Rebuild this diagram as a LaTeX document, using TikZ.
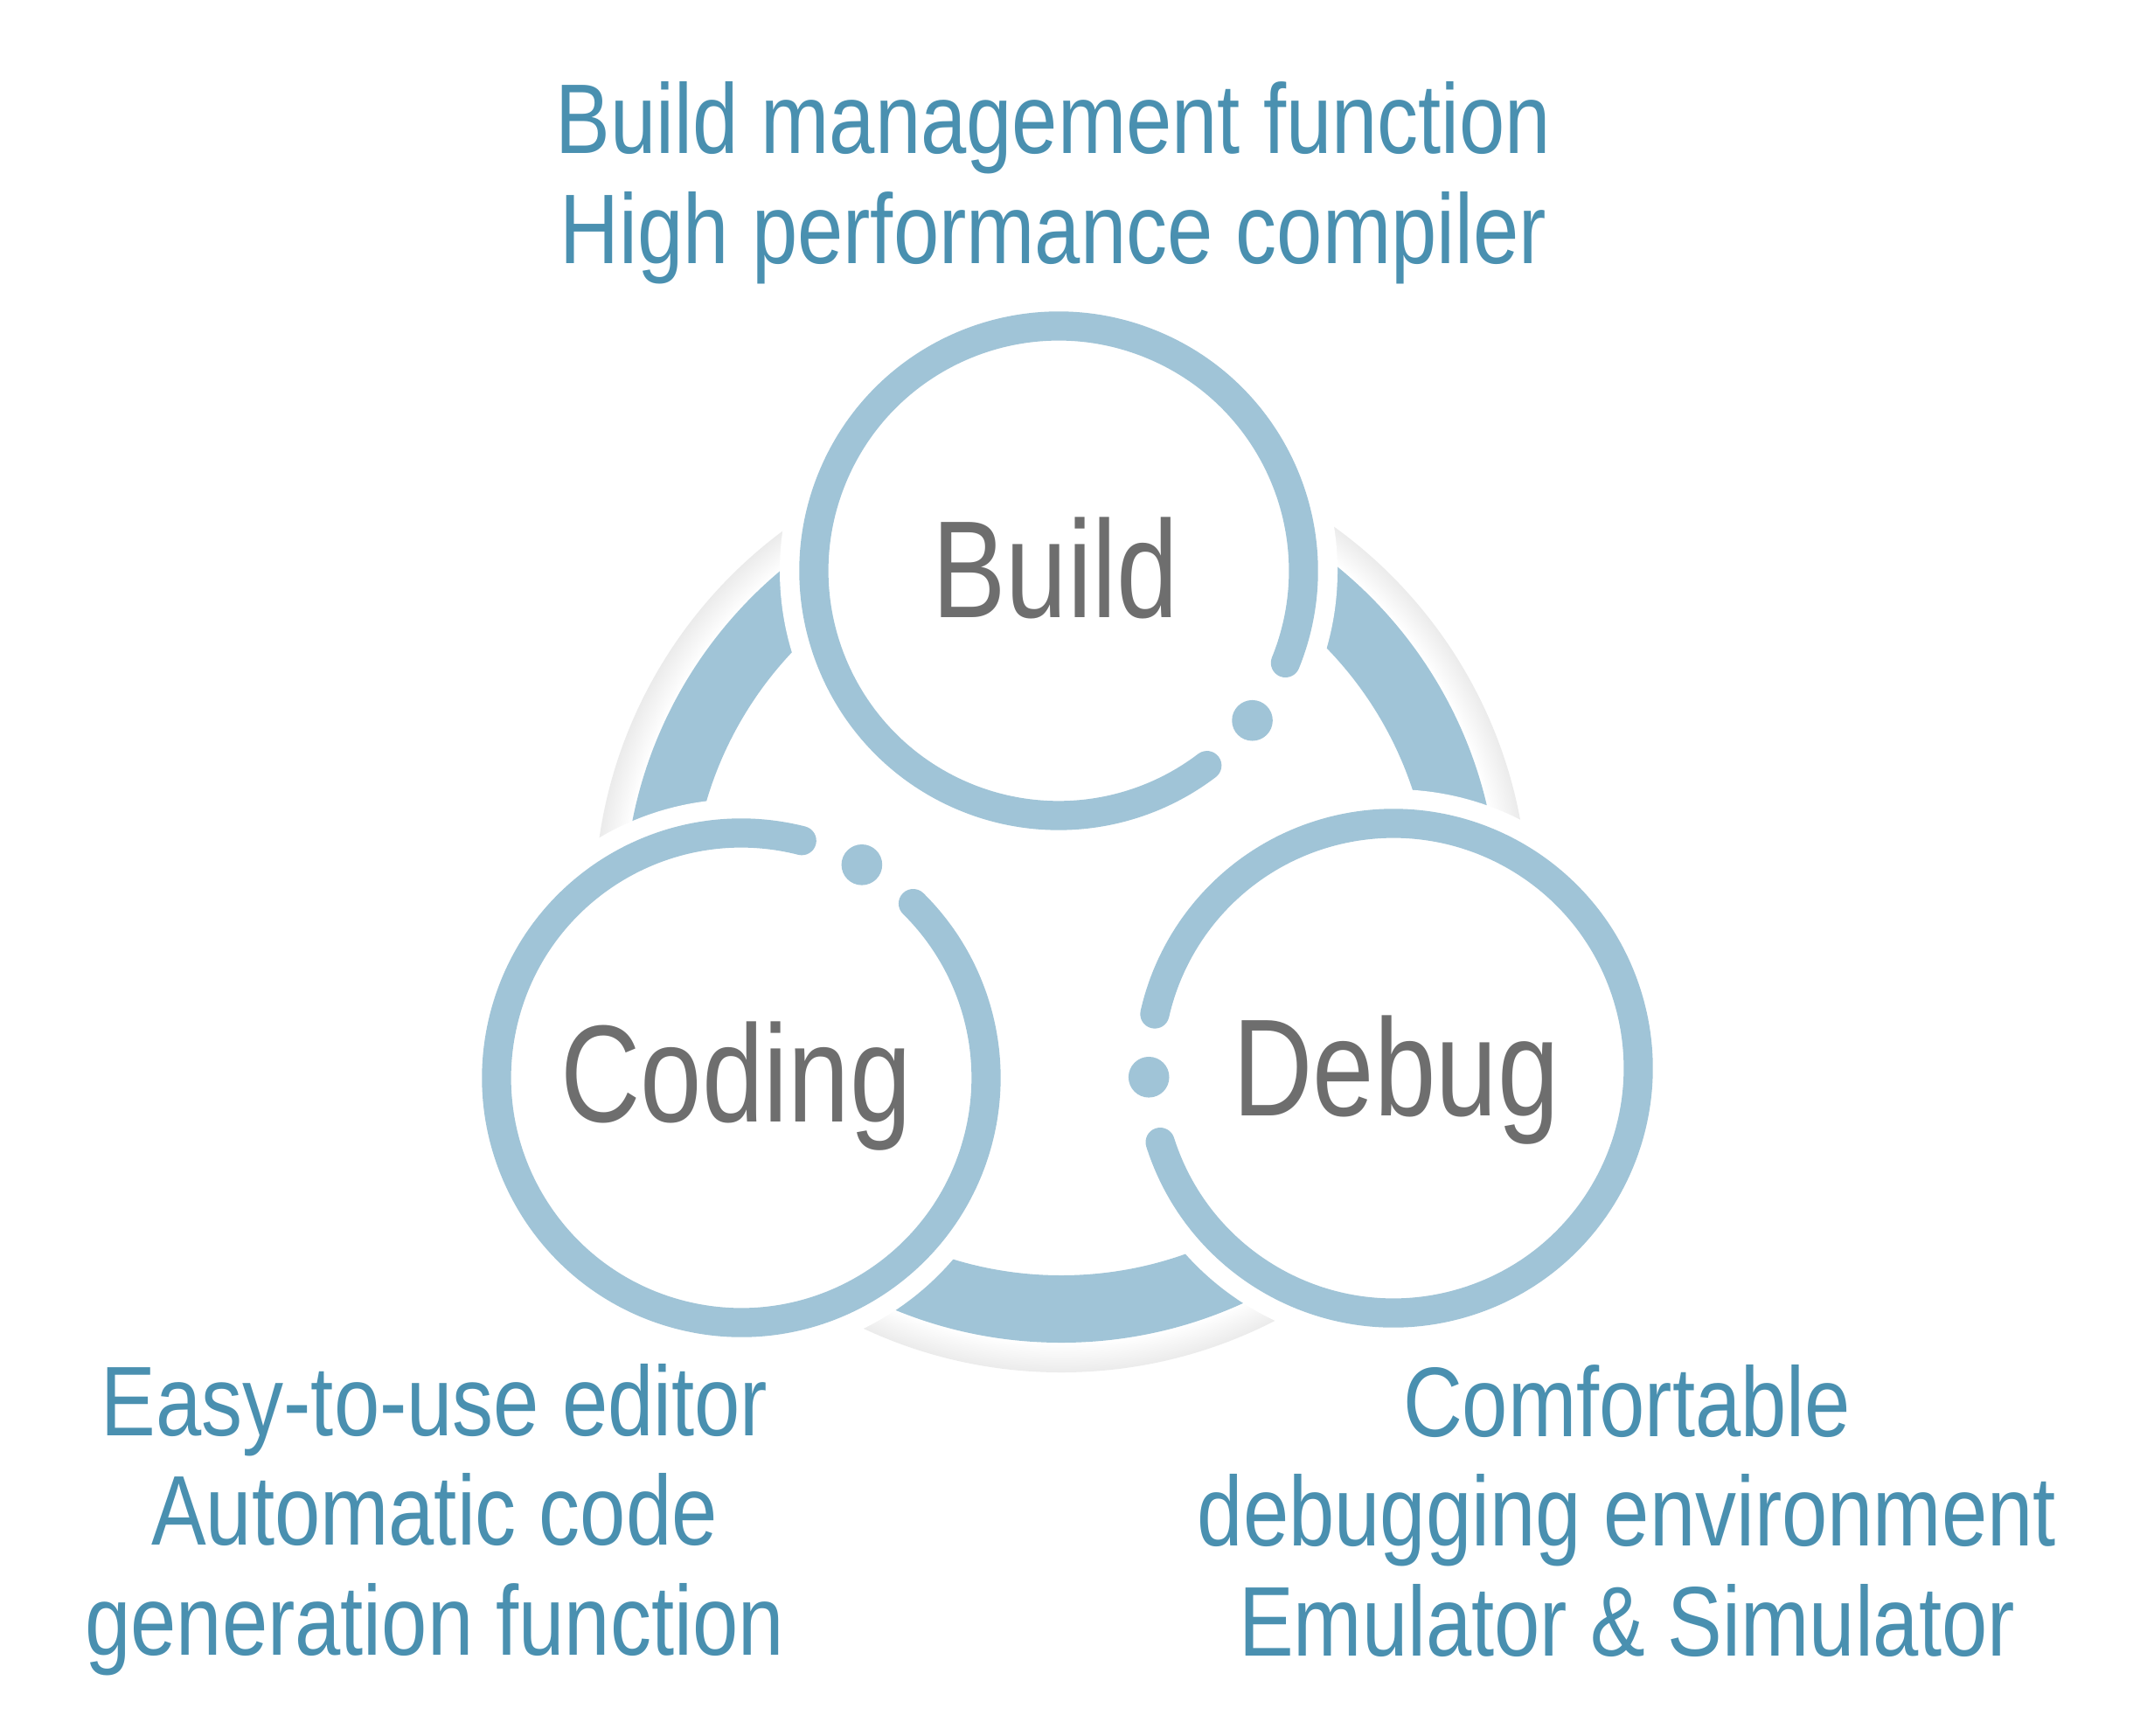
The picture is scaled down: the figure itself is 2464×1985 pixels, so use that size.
\documentclass[tikz,border=0pt]{standalone}
\usepackage{fontspec}
\newfontfamily\featfont[FakeStretch=0.83]{Liberation Sans}
\newfontfamily\phasefont[FakeStretch=0.8]{Liberation Sans}
\definecolor{ringblue}{HTML}{A0C4D7}
\definecolor{textblue}{HTML}{4A90B0}
\definecolor{labgrey}{HTML}{6E6E6E}
\definecolor{shadowgrey}{HTML}{EBEBEB}
% soft edge outside the connecting band (circle edge sits at 25bp)
\pgfdeclareradialshading{bandshadow}{\pgfpoint{0bp}{0bp}}{color(0bp)=(white); color(23.4bp)=(white); color(25bp)=(shadowgrey); color(50bp)=(shadowgrey)}

\begin{document}
\begin{tikzpicture}[
  x=0.01cm, y=0.01cm,
  ring/.style={draw=ringblue, line width=0.333cm, line cap=round},
  gapdot/.style={fill=ringblue},
  halo/.style={fill=white},
  phase/.style={font=\phasefont\fontsize{45pt}{50pt}\selectfont, text=labgrey,
                inner sep=0pt, anchor=base},
  feat/.style={font=\featfont\fontsize{32.2pt}{35.6pt}\selectfont, text=textblue,
               align=center, inner sep=0pt, anchor=base}
]
\useasboundingbox (0,0) rectangle (2464,-1985);

\coordinate (hub) at (1214,-1036);
\coordinate (build) at (1211,-653);
\coordinate (coding) at (848,-1233);
\coordinate (debug) at (1594,-1222);

% band joining the three circles
\shade[shading=bandshadow] (hub) circle (534);
\fill[ringblue, even odd rule] (hub) circle (500) (hub) circle (423);
\foreach \c in {build,coding,debug}
  \fill[halo] (\c) circle (319);

% circles with their gaps
\draw[ring] (build) ++(-22.1:280) arc[start angle=-22.1, end angle=307.3, radius=280];
\fill[gapdot] (build) ++(-37.7:280) circle (23.3);
\draw[ring] (coding) ++(75.7:280) arc[start angle=75.7, end angle=405.4, radius=280];
\fill[gapdot] (coding) ++(60.5:280) circle (23.3);
\draw[ring] (debug) ++(197.6:280) arc[start angle=197.6, end angle=527.2, radius=280];
\fill[gapdot] (debug) ++(182.1:280) circle (23.3);

\node[phase] (buildlab) at (1207,-706.7) {Build};
\node[phase] (codinglab) at (842,-1283) {Coding};
\node[phase] (debuglab) at (1597,-1276) {Debug};

\node[feat] (buildtxt) at (1205,-301) {Build management function\\ High performance compiler};
\node[feat] (codingtxt) at (497,-1893) {Easy-to-use editor\\ Automatic code\\ generation function};
\node[feat] (debugtxt) at (1861,-1894) {Comfortable\\ debugging environment\\ Emulator \& Simulator};
\end{tikzpicture}
\end{document}
